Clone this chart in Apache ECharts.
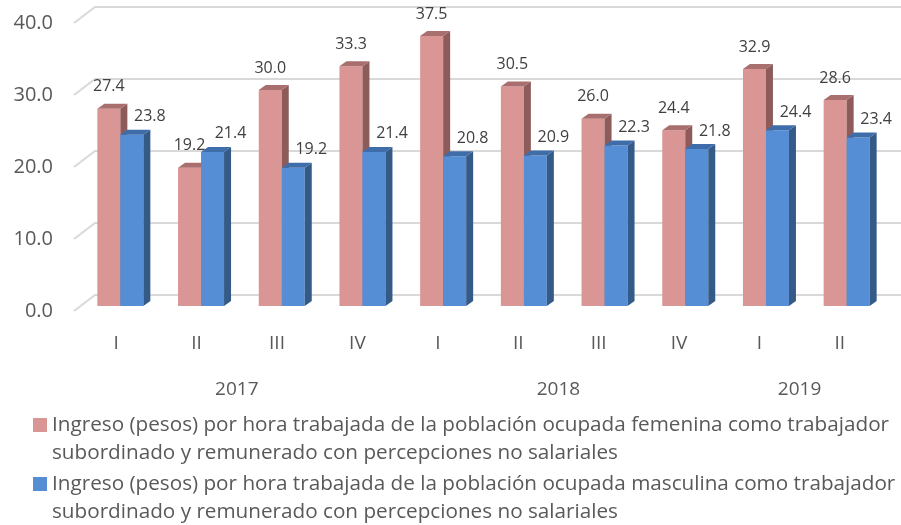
<!DOCTYPE html>
<html>
<head>
<meta charset="utf-8">
<script src="https://cdn.jsdelivr.net/npm/echarts@6/dist/echarts.min.js"></script>
<style>
  html, body { margin: 0; padding: 0; background: #fff; }
  #main { width: 901px; height: 525px; }
</style>
</head>
<body>
<div id="main"></div>
<script>
// data
var quarters = ['I', 'II', 'III', 'IV', 'I', 'II', 'III', 'IV', 'I', 'II'];
var years = ['2017', '2018', '2019'];
var quartersPerYear = [4, 4, 2];
var femenina = [27.4, 19.2, 30.0, 33.3, 37.5, 30.5, 26.0, 24.4, 32.9, 28.6];
var masculina = [23.8, 21.4, 19.2, 21.4, 20.8, 20.9, 22.3, 21.8, 24.4, 23.4];
var yTicks = [0, 10, 20, 30, 40];
var names = [
  'Ingreso (pesos) por hora trabajada de la población ocupada femenina como trabajador\nsubordinado y remunerado con percepciones no salariales',
  'Ingreso (pesos) por hora trabajada de la población ocupada masculina como trabajador\nsubordinado y remunerado con percepciones no salariales'
];

var FONT = '"Open Sans", "Noto Sans", sans-serif';
var BAR_W = 23;
var DEPTH_X = 7, DEPTH_Y = 5;   // bar depth
var WALL_X = 21, WALL_Y = 16;   // back wall offset for gridlines

// year label positions: middle of each group of quarters
var yearPos = [];
var acc = 0;
for (var k = 0; k < years.length; k++) {
  yearPos.push(acc + quartersPerYear[k] / 2);
  acc += quartersPerYear[k];
}

var chart = echarts.init(document.getElementById('main'), null, { renderer: 'canvas' });

function barRenderer(side, colors, lblDx, lblDy) {
  return function (params, api) {
    var i = api.value(0), v = api.value(1);
    var top = api.coord([i, v]);
    var base = api.coord([i, 0]);
    var x0 = side === 0 ? top[0] - BAR_W : top[0];
    var x1 = x0 + BAR_W;
    var ty = top[1], by = base[1];
    return {
      type: 'group',
      children: [
        {
          type: 'rect',
          shape: { x: x0, y: ty, width: BAR_W, height: by - ty },
          style: { fill: colors[0] }
        },
        {
          type: 'polygon',
          shape: { points: [[x1, ty], [x1, by], [x1 + DEPTH_X, by - DEPTH_Y], [x1 + DEPTH_X, ty - DEPTH_Y]] },
          style: { fill: colors[1] }
        },
        {
          type: 'polygon',
          shape: { points: [[x0, ty], [x1, ty], [x1 + DEPTH_X, ty - DEPTH_Y], [x0 + DEPTH_X, ty - DEPTH_Y]] },
          style: { fill: colors[2] }
        },
        {
          type: 'text',
          x: (x0 + x1) / 2 + lblDx,
          y: ty + lblDy,
          style: {
            text: v.toFixed(1),
            fill: '#404040',
            fontSize: 16,
            fontFamily: FONT,
            align: 'center',
            verticalAlign: 'middle'
          }
        }
      ]
    };
  };
}

function legendFor(name, top) {
  return {
    data: [name],
    left: 33,
    top: top,
    padding: 0,
    orient: 'vertical',
    icon: 'rect',
    itemWidth: 14,
    itemHeight: 14,
    // blank first line so the marker sits beside the first text line
    formatter: function (n) { return ' \n' + n; },
    textStyle: {
      color: '#595959',
      fontSize: 20.7,
      fontFamily: FONT,
      lineHeight: 28
    }
  };
}

var option = {
  backgroundColor: '#fff',
  animation: false,
  legend: [legendFor(names[0], 383), legendFor(names[1], 442)],
  grid: [
    { left: 76, top: 23, width: 804, height: 288 },   // axis plane
    { left: 80, top: 18, width: 807, height: 288 }    // bar plane
  ],
  xAxis: [
    {
      type: 'category',
      gridIndex: 0,
      data: quarters,
      axisLine: { show: false },
      axisTick: { show: false },
      axisLabel: { color: '#595959', fontSize: 19, fontFamily: FONT, margin: 23 }
    },
    {
      type: 'category',
      gridIndex: 1,
      data: quarters,
      show: false
    },
    {
      type: 'value',
      gridIndex: 0,
      min: 0,
      max: quarters.length,
      position: 'bottom',
      axisLine: { show: false },
      axisTick: { show: false },
      splitLine: { show: false },
      axisLabel: {
        customValues: yearPos,
        color: '#595959',
        fontSize: 19,
        fontFamily: FONT,
        margin: 69,
        formatter: function (v) {
          var idx = yearPos.indexOf(v);
          return idx >= 0 ? years[idx] : '';
        }
      }
    }
  ],
  yAxis: [
    {
      type: 'value',
      gridIndex: 0,
      min: 0,
      max: 40,
      interval: 10,
      axisLine: { show: false },
      axisTick: { show: false },
      splitLine: { show: false },
      axisLabel: {
        color: '#595959',
        fontSize: 20,
        fontFamily: FONT,
        margin: 23,
        formatter: function (v) { return v.toFixed(1); }
      }
    },
    {
      type: 'value',
      gridIndex: 1,
      min: 0,
      max: 40,
      interval: 10,
      show: false
    }
  ],
  series: [
    {
      type: 'custom',
      name: 'grid',
      xAxisIndex: 0,
      yAxisIndex: 0,
      silent: true,
      z: 1,
      data: yTicks.map(function (t) { return [0, t]; }),
      renderItem: function (params, api) {
        var y = api.coord([0, api.value(1)])[1];
        var x0 = params.coordSys.x - 2;
        return {
          type: 'polyline',
          shape: { points: [[x0, y], [x0 + WALL_X, y - WALL_Y], [api.getWidth(), y - WALL_Y]] },
          style: { stroke: '#D9D9D9', lineWidth: 2, fill: null }
        };
      }
    },
    {
      type: 'custom',
      name: names[0],
      xAxisIndex: 1,
      yAxisIndex: 1,
      z: 2,
      itemStyle: { color: '#D99694' },
      data: femenina.map(function (v, i) { return [i, v]; }),
      renderItem: barRenderer(0, ['#D99694', '#8C5B5A', '#A96F6E'], 0, -22)
    },
    {
      type: 'custom',
      name: names[1],
      xAxisIndex: 1,
      yAxisIndex: 1,
      z: 3,
      itemStyle: { color: '#558ED5' },
      data: masculina.map(function (v, i) { return [i, v]; }),
      renderItem: barRenderer(1, ['#558ED5', '#345A88', '#3F6DAA'], 18, -18)
    }
  ]
};

chart.setOption(option);
</script>
</body>
</html>
